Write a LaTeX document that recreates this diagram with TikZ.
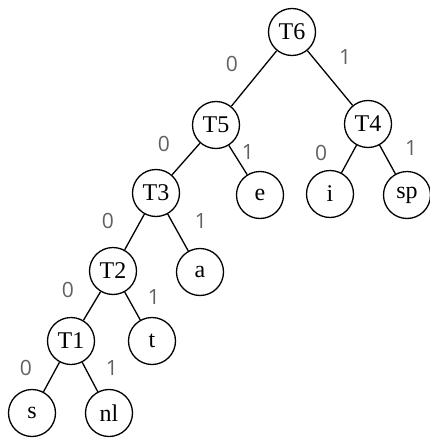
\documentclass[tikz,border=0pt]{standalone}
\usepackage{fontspec}
\setmainfont{Liberation Serif}
\newfontfamily\labfont{Open Sans}
\begin{document}
\begin{tikzpicture}[x=1pt,y=-1pt,
  tnode/.style={circle,draw,line width=1.3pt,minimum size=47pt,inner sep=0pt,font=\fontsize{24}{24}\selectfont},
  edgeline/.style={line width=1.3pt},
  bitlabel/.style={font=\labfont\fontsize{21}{21}\selectfont,text=black!62,inner sep=0pt}]
\useasboundingbox (0,0) rectangle (430,439);
\node[tnode] (T6) at (292,32) {T6};
\node[tnode] (T5) at (216,125) {T5};
\node[tnode] (T4) at (368,124) {T4};
\node[tnode] (T3) at (156,193) {T3};
\node[tnode] (e) at (260,195) {e};
\node[tnode] (i) at (330,194) {i};
\node[tnode] (sp) at (407,195) {sp};
\node[tnode] (T2) at (113,271) {T2};
\node[tnode] (a) at (200,272) {a};
\node[tnode] (T1) at (71,341) {T1};
\node[tnode] (t) at (152,341) {t};
\node[tnode] (s) at (32,413) {s};
\node[tnode] (nl) at (109,413) {nl};
\draw[edgeline] (T6) -- (T5);
\draw[edgeline] (T6) -- (T4);
\draw[edgeline] (T5) -- (T3);
\draw[edgeline] (T5) -- (e);
\draw[edgeline] (T4) -- (i);
\draw[edgeline] (T4) -- (sp);
\draw[edgeline] (T3) -- (T2);
\draw[edgeline] (T3) -- (a);
\draw[edgeline] (T2) -- (T1);
\draw[edgeline] (T2) -- (t);
\draw[edgeline] (T1) -- (s);
\draw[edgeline] (T1) -- (nl);
\node[bitlabel] (l60) at (232,64) {0};
\node[bitlabel] (l61) at (345,57) {1};
\node[bitlabel] (l50) at (164,144) {0};
\node[bitlabel] (l51) at (248,152) {1};
\node[bitlabel] (l40) at (321,153) {0};
\node[bitlabel] (l41) at (411,148) {1};
\node[bitlabel] (l30) at (108,221) {0};
\node[bitlabel] (l31) at (201,221) {1};
\node[bitlabel] (l20) at (68,290) {0};
\node[bitlabel] (l21) at (154,297) {1};
\node[bitlabel] (l10) at (26,368) {0};
\node[bitlabel] (l11) at (112,368) {1};
\end{tikzpicture}
\end{document}
